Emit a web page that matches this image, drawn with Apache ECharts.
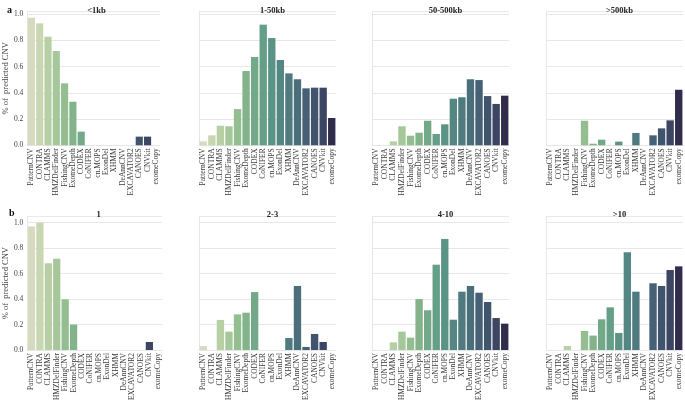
<!DOCTYPE html>
<html><head><meta charset="utf-8">
<script src="https://cdn.jsdelivr.net/npm/echarts@6/dist/echarts.min.js"></script>
<style>html,body{margin:0;padding:0;background:#fff}#c{width:685px;height:405px}</style>
</head><body><div id="c"></div>
<script>
const categories = ['PatternCNV','CONTRA','CLAMMS','HMZDelFinder','FishingCNV','ExomeDepth','CODEX','CoNIFER','cn.MOPS','ExonDel','XHMM','DeAnnCNV','EXCAVATOR2','CANOES','CNVkit','exomeCopy'];
const panelTitles = ['<1kb','1-50kb','50-500kb','>500kb','1','2-3','4-10','>10'];
const yTicks = [0,0.2,0.4,0.6,0.8,1.0];

const lt1kb     = [0.972,0.929,0.827,0.718,0.472,0.332,0.104,0,0,0,0,0,0,0.066,0.066,0];
const kb1to50   = [0.030,0.076,0.149,0.145,0.276,0.566,0.673,0.919,0.817,0.650,0.548,0.503,0.434,0.439,0.439,0.208];
const kb50to500 = [0,0,0.030,0.145,0.073,0.096,0.187,0.086,0.160,0.355,0.366,0.503,0.497,0.375,0.315,0.378];
const gt500kb   = [0,0,0,0,0.187,0.012,0.043,0,0.028,0,0.094,0,0.076,0.129,0.190,0.423];
const exon1     = [0.969,1.000,0.681,0.717,0.398,0.200,0,0,0,0,0,0,0,0,0.063,0];
const exon2to3  = [0.031,0,0.236,0.144,0.280,0.293,0.455,0,0,0,0.094,0.503,0.024,0.126,0.063,0];
const exon4to10 = [0,0,0.060,0.144,0.097,0.400,0.312,0.670,0.872,0.238,0.458,0.503,0.450,0.377,0.251,0.207];
const exonGt10  = [0,0,0.031,0,0.149,0.113,0.241,0.335,0.134,0.767,0.458,0,0.524,0.503,0.628,0.657];

const panelData = [lt1kb,kb1to50,kb50to500,gt500kb,exon1,exon2to3,exon4to10,exonGt10];
const palette = ['#d6dbc0','#c8d6b2','#b7cfa5','#a5c799','#94bd90','#82b38a','#73a988','#669f88','#5b9387','#548784','#4f7b80','#4b6e7b','#466175','#41546d','#3c4663','#302c4b'];

const font = 'Liberation Serif';
const lefts = [[23,199,372,546],[25,199,372,546]];
const W = 137;
const rows = [{top:11.4,height:133.9,max:1.02},{top:216.3,height:133.7,max:1.05}];

const grid=[],xAxis=[],yAxis=[],series=[],title=[];
for(let i=0;i<8;i++){
  const r = Math.floor(i/4), c = i%4, R = rows[r];
  grid.push({left:lefts[r][c],top:R.top,width:W,height:R.height});
  xAxis.push({type:'category',gridIndex:i,data:categories,
    axisTick:{show:false},axisLine:{show:true,lineStyle:{color:'#e6e6e6',width:1}},
    axisLabel:{rotate:90,interval:0,fontFamily:font,fontSize:7.5,color:'#3a3a3a',margin:3}});
  yAxis.push({type:'value',gridIndex:i,min:0,max:R.max,interval:0.2,
    name: c===0 ? '% of  predicted CNV' : '',nameLocation:'middle',nameGap:12,
    nameTextStyle:{fontFamily:font,fontSize:8.5,color:'#444'},
    axisLine:{show:true,lineStyle:{color:'#e6e6e6',width:1}},axisTick:{show:false},
    splitLine:{show:true,lineStyle:{color:'#e8e8e8',width:1}},
    axisLabel:{show:c===0,fontFamily:font,fontSize:7.5,color:'#444',margin:4,
      showMaxLabel:false,formatter:v=>yTicks.some(t=>Math.abs(t-v)<1e-9)?v.toFixed(1):''}});
  series.push({type:'bar',xAxisIndex:i,yAxisIndex:i,barWidth:'86%',
    data:panelData[i].map((v,k)=>({value:v,itemStyle:{color:palette[k]}})),
    silent:true,animation:false});
  title.push({text:panelTitles[i],left:lefts[r][c]+W/2,top:r===0?1:205,textAlign:'center',
    textStyle:{fontFamily:font,fontSize:8.5,fontWeight:'bold',color:'#222'}});
}
title.push({text:'a',left:2,top:0,textStyle:{fontFamily:font,fontSize:10,fontWeight:'bold',color:'#111'}});
title.push({text:'b',left:4,top:203,textStyle:{fontFamily:font,fontSize:10,fontWeight:'bold',color:'#111'}});

const chart = echarts.init(document.getElementById('c'),null,{renderer:'canvas'});
chart.setOption({animation:false,title,grid,xAxis,yAxis,series});
</script></body></html>
